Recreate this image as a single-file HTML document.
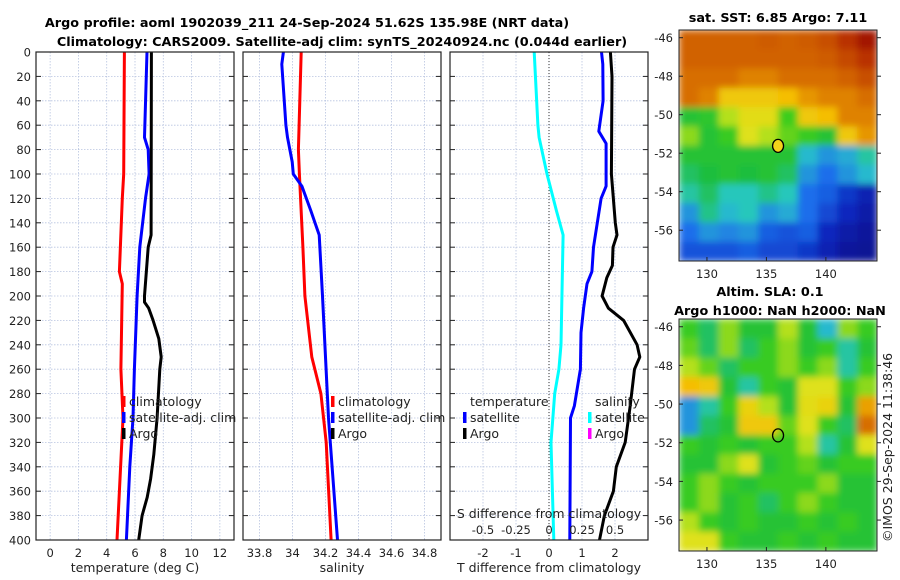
<!DOCTYPE html>
<html><head><meta charset="utf-8"><style>
body{margin:0;background:#fff;}
svg{display:block;font-family:"DejaVu Sans","Liberation Sans",sans-serif;}
</style></head><body>
<svg id="fig" width="900" height="580" viewBox="0 0 900 580" xmlns="http://www.w3.org/2000/svg">
<defs>
<filter id="blur" x="0" y="0" width="1" height="1"><feGaussianBlur stdDeviation="3.5" edgeMode="duplicate"/></filter>
<clipPath id="clipTop"><rect x="679" y="30" width="198" height="231"/></clipPath>
<clipPath id="clipBot"><rect x="679" y="319" width="198" height="232"/></clipPath>
</defs>
<text x="307" y="27" text-anchor="middle" font-weight="bold" font-size="12.8">Argo profile: aoml 1902039_211 24-Sep-2024 51.62S 135.98E (NRT data)</text>
<text x="342" y="46" text-anchor="middle" font-weight="bold" font-size="12.8">Climatology: CARS2009. Satellite-adj clim: synTS_20240924.nc (0.044d earlier)</text>
<text x="778" y="22" text-anchor="middle" font-weight="bold" font-size="12.8">sat. SST: 6.85 Argo: 7.11</text>
<text x="770" y="296" text-anchor="middle" font-weight="bold" font-size="12.8">Altim. SLA: 0.1</text>
<text x="780" y="315" text-anchor="middle" font-weight="bold" font-size="12.8">Argo h1000: NaN h2000: NaN</text>
<text transform="translate(892,542) rotate(-90)" font-size="12.5" fill="#222">©IMOS 29-Sep-2024 11:38:46</text>
<g id="plots"></g>
</svg>
<script>
// ---- data ----
const depths_tclim = [0,100,120,180,190,260,300,360,400];
const temp_clim = [5.25,5.2,5.1,4.9,5.1,5.0,5.15,4.9,4.73];
const depths_tsat = [0,70,80,100,120,160,200,260,300,340,400];
const temp_sat = [6.85,6.67,6.93,7.0,6.74,6.34,6.15,5.96,5.86,5.63,5.39];
const depths_targo = [0,150,160,200,205,210,220,235,250,260,300,330,350,365,380,400];
const temp_argo = [7.16,7.14,6.93,6.67,6.67,6.97,7.28,7.68,7.85,7.75,7.56,7.33,7.1,6.86,6.5,6.26];
const depths_sclim = [0,80,100,160,200,250,280,320,400];
const sal_clim = [34.053,34.036,34.042,34.063,34.075,34.117,34.172,34.204,34.234];
const depths_ssat = [0,10,60,70,90,100,110,130,150,200,300,400];
const sal_sat = [33.945,33.935,33.96,33.97,33.998,34.005,34.057,34.111,34.162,34.182,34.218,34.273];
const depths_dtsat = [0,10,40,65,75,110,120,160,180,190,210,230,260,290,300,400];
const tdiff_sat = [1.59,1.63,1.64,1.51,1.73,1.73,1.58,1.35,1.30,1.15,1.05,0.97,0.95,0.77,0.65,0.63];
const depths_dtargo = [0,20,100,140,150,160,175,185,200,210,220,240,250,260,290,320,340,360,380,400];
const tdiff_argo = [1.86,1.91,1.89,2.01,2.06,1.94,1.92,1.75,1.61,1.8,2.26,2.67,2.75,2.59,2.46,2.31,2.04,1.95,1.68,1.53];
const depths_dssat = [0,60,70,100,130,150,240,260,280,320,400];
const sdiff_sat = [-0.112,-0.084,-0.075,-0.015,0.056,0.107,0.091,0.075,0.043,0.015,0.036];
const depthTicks = [0,20,40,60,80,100,120,140,160,180,200,220,240,260,280,300,320,340,360,380,400];
const tTicks = [0,2,4,6,8,10,12];
const sTicks = [33.8,34,34.2,34.4,34.6,34.8];
const sTickLabels = ["33.8","34","34.2","34.4","34.6","34.8"];
const dtTicks = [-2,-1,0,1,2];
const dsTicks = [-0.5,-0.25,0,0.25,0.5];
const dsTickLabels = ["-0.5","-0.25","0","0.25","0.5"];
const sstGrid = [
[0.82,0.82,0.82,0.82,0.83,0.82,0.83,0.85,0.9,0.95],
[0.82,0.82,0.82,0.82,0.82,0.82,0.82,0.83,0.86,0.9],
[0.8,0.8,0.8,0.78,0.78,0.8,0.8,0.8,0.82,0.85],
[0.8,0.78,0.7,0.7,0.7,0.72,0.76,0.78,0.78,0.8],
[0.5,0.52,0.62,0.66,0.66,0.56,0.7,0.72,0.78,0.78],
[0.6,0.5,0.55,0.65,0.62,0.58,0.55,0.5,0.7,0.76],
[0.5,0.5,0.5,0.5,0.5,0.5,0.35,0.3,0.33,0.4],
[0.45,0.48,0.5,0.48,0.5,0.45,0.3,0.25,0.3,0.35],
[0.4,0.45,0.38,0.38,0.42,0.38,0.25,0.22,0.15,0.1],
[0.3,0.42,0.35,0.38,0.3,0.33,0.25,0.18,0.12,0.08],
[0.25,0.3,0.28,0.3,0.22,0.2,0.22,0.12,0.08,0.06],
[0.2,0.2,0.2,0.22,0.18,0.18,0.15,0.1,0.06,0.05]];
const slaGrid = [
[0.55,0.45,0.6,0.5,0.5,0.62,0.5,0.35,0.6,0.55],
[0.58,0.45,0.6,0.45,0.55,0.6,0.5,0.55,0.4,0.5],
[0.62,0.58,0.45,0.55,0.55,0.6,0.55,0.6,0.4,0.55],
[0.72,0.7,0.5,0.4,0.55,0.5,0.65,0.65,0.55,0.6],
[0.3,0.4,0.55,0.68,0.62,0.5,0.66,0.68,0.5,0.75],
[0.3,0.45,0.5,0.7,0.7,0.58,0.65,0.55,0.45,0.8],
[0.55,0.5,0.55,0.5,0.55,0.55,0.62,0.4,0.5,0.65],
[0.5,0.5,0.6,0.65,0.5,0.55,0.58,0.5,0.55,0.55],
[0.55,0.6,0.55,0.5,0.55,0.55,0.55,0.6,0.5,0.5],
[0.55,0.6,0.5,0.55,0.45,0.55,0.6,0.55,0.5,0.5],
[0.62,0.55,0.5,0.55,0.5,0.5,0.55,0.5,0.55,0.5],
[0.65,0.65,0.55,0.5,0.5,0.55,0.5,0.55,0.5,0.5]];
const lonTicks = [130,135,140];
const latTicks = [-46,-48,-50,-52,-54,-56];
const argoLon = 135.98, argoLat = -51.62;

const NS = "http://www.w3.org/2000/svg";
const root = document.getElementById('plots');
function mk(tag, attrs, parent){const e=document.createElementNS(NS,tag);for(const k in attrs)e.setAttribute(k,attrs[k]);(parent||root).appendChild(e);return e;}
const Y0=52, Y1=540;
const yD = d => Y0 + d/400*(Y1-Y0);
function lin(d0,d1,r0,r1){return v=>r0+(v-d0)/(d1-d0)*(r1-r0);}
const FS=11.5;

function panel(name,x0,x1,xs,vTicks,labels,xlabel){
  const g=mk('g',{});
  
  
  vTicks.forEach(t=>{const l=mk('line',{x1:xs(t),x2:xs(t),y1:Y0,y2:Y1,stroke:'#b8c4e0','stroke-width':0.8,'stroke-dasharray':'1.5,1.5'},g);
    
    });
  depthTicks.forEach(d=>{const l=mk('line',{x1:x0,x2:x1,y1:yD(d),y2:yD(d),stroke:'#b8c4e0','stroke-width':0.8,'stroke-dasharray':'1.5,1.5'},g);
    
    
    mk('line',{x1:x0,x2:x0+5,y1:yD(d),y2:yD(d),stroke:'#222'},g);mk('line',{x1:x1-5,x2:x1,y1:yD(d),y2:yD(d),stroke:'#222'},g);});
  if(labels){vTicks.forEach((t,i)=>{const tx=mk('text',{x:xs(t),y:Y1+17,'text-anchor':'middle','font-size':FS,fill:'#222'},g);tx.textContent=labels[i];
    
    });}
  const xl=mk('text',{x:(x0+x1)/2,y:Y1+32,'text-anchor':'middle','font-size':12.5,fill:'#222'},g);xl.textContent=xlabel;
  
  
  return g;
}
function series(g,name,depths,vals,xs,color,w){
  const p=mk('polyline',{points:depths.map((d,i)=>xs(vals[i]).toFixed(1)+','+yD(d).toFixed(1)).join(' '),fill:'none',stroke:color,'stroke-width':w||3,'stroke-linejoin':'round'},g);
  
  
}
function frame(g,x0,x1){const r=mk('rect',{x:x0,y:Y0,width:x1-x0,height:Y1-Y0,fill:'none',stroke:'#222','stroke-width':1.2},g);
  
  }
function legend(g,x,y,items){items.forEach((it,i)=>{
  if(it[1]) mk('rect',{x:x-3,y:y+i*16-10,width:3.5,height:11,fill:it[1]},g);
  const t=mk('text',{x:x+4,y:y+i*16,'font-size':12.5,fill:'#222'},g);t.textContent=it[0];
  
  });}

depthTicks.forEach(d=>{const t=mk('text',{x:31,y:yD(d)+4.5,'text-anchor':'end','font-size':FS,fill:'#222'});t.textContent=d;
  
  });

const xT=lin(-1,13,36,234);
const g1=panel('temperature-panel',36,234,xT,tTicks,tTicks.map(String),'temperature (deg C)');
series(g1,'temp-climatology-line',depths_tclim,temp_clim,xT,'#f00');
series(g1,'temp-satellite-line',depths_tsat,temp_sat,xT,'#00f');
series(g1,'temp-argo-line',depths_targo,temp_argo,xT,'#000');
frame(g1,36,234);
legend(g1,125,406,[['climatology','#f00'],['satellite-adj. clim','#00f'],['Argo','#000']]);

const xS=lin(33.7,34.9,243,441);
const g2=panel('salinity-panel',243,441,xS,sTicks,sTickLabels,'salinity');
series(g2,'sal-climatology-line',depths_sclim,sal_clim,xS,'#f00');
series(g2,'sal-satellite-line',depths_ssat,sal_sat,xS,'#00f');
frame(g2,243,441);
legend(g2,334,406,[['climatology','#f00'],['satellite-adj. clim','#00f'],['Argo','#000']]);

const xDT=lin(-3,3,450,648);
const xDS=lin(-0.75,0.75,450,648);
const g3=panel('difference-panel',450,648,xDT,dtTicks,dtTicks.map(String),'T difference from climatology');
const zl=mk('line',{x1:xDT(0),x2:xDT(0),y1:Y0,y2:Y1,stroke:'#333','stroke-width':1,'stroke-dasharray':'1,2'},g3);


series(g3,'sdiff-satellite-line',depths_dssat,sdiff_sat,xDS,'#0ff');
series(g3,'tdiff-satellite-line',depths_dtsat,tdiff_sat,xDT,'#00f');
series(g3,'tdiff-argo-line',depths_dtargo,tdiff_argo,xDT,'#000');
frame(g3,450,648);
legend(g3,466,406,[['temperature',null],['satellite','#00f'],['Argo','#000']]);
legend(g3,591,406,[['salinity',null],['satellite','#0ff'],['Argo','#f0f']]);
const st=mk('text',{x:549,y:518,'text-anchor':'middle','font-size':12.5,fill:'#222'},g3);st.textContent='S difference from climatology';


dsTicks.forEach((t,i)=>{const tx=mk('text',{x:xDS(t),y:534,'text-anchor':'middle','font-size':FS,fill:'#222'},g3);tx.textContent=dsTickLabels[i];
  
  });

const cmapStops=[[0,[5,10,120]],[0.12,[10,40,190]],[0.25,[30,110,235]],[0.37,[40,200,200]],[0.48,[30,190,60]],[0.56,[60,205,30]],[0.64,[220,230,30]],[0.72,[245,190,0]],[0.8,[215,110,0]],[0.9,[185,50,0]],[1,[140,0,0]]];
function cmap(v){v=Math.max(0,Math.min(1,v));
  for(let i=1;i<cmapStops.length;i++){const a=cmapStops[i-1],b=cmapStops[i];
    if(v<=b[0]){const f=(v-a[0])/(b[0]-a[0]);return 'rgb('+a[1].map((c,k)=>Math.round(c+(b[1][k]-c)*f)).join(',')+')';}}
  return 'rgb(140,0,0)';}
function map(name,top,bot,grid,fillMarker,clipId){
  const g=mk('g',{});
  
  
  const x0=679,x1=877;
  const xL=lin(127.65,144.3,x0,x1), yL=lin(-45.6,-57.6,top,bot);
  const rows=grid.length, cols=grid[0].length;
  const cw=(x1-x0)/cols, ch=(bot-top)/rows;
  const cg=mk('g',{'clip-path':'url(#'+clipId+')'},g);
  const img=mk('g',{filter:'url(#blur)'},cg);
  grid.forEach((row,r)=>row.forEach((v,c)=>{const rc=mk('rect',{x:x0+c*cw,y:top+r*ch,width:cw+0.6,height:ch+0.6,fill:cmap(v)},img);
    
    }));
  const fr=mk('rect',{x:x0,y:top,width:x1-x0,height:bot-top,fill:'none',stroke:'#222'},g);
  
  
  lonTicks.forEach(t=>{mk('line',{x1:xL(t),x2:xL(t),y1:bot,y2:bot-4,stroke:'#222'},g);
    const tx=mk('text',{x:xL(t),y:bot+17,'text-anchor':'middle','font-size':FS,fill:'#222'},g);tx.textContent=t;
    
    });
  latTicks.forEach(t=>{mk('line',{x1:x0,x2:x0+4,y1:yL(t),y2:yL(t),stroke:'#222'},g);mk('line',{x1:x1,x2:x1+4,y1:yL(t),y2:yL(t),stroke:'#222'},g);
    const tx=mk('text',{x:x0-6,y:yL(t)+4.5,'text-anchor':'end','font-size':FS,fill:'#222'},g);tx.textContent=t;
    
    });
  const m=mk('ellipse',{cx:xL(argoLon),cy:yL(argoLat),rx:5.5,ry:6.5,fill:fillMarker,stroke:'#000','stroke-width':1.3},g);
  
  
}
map('sst-map',30,261,sstGrid,'#f5d21a','clipTop');
map('sla-map',319,551,slaGrid,'none','clipBot');
</script>
</body></html>
